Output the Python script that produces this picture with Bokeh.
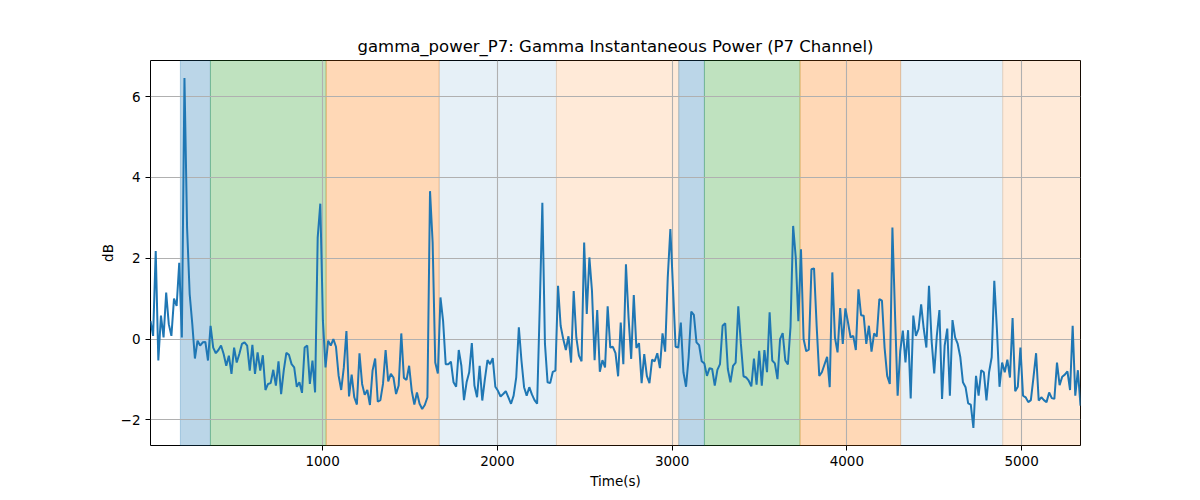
import numpy as np
from bokeh.plotting import figure
from bokeh.models import BoxAnnotation, FixedTicker, CustomJSTickFormatter, Range1d
from bokeh.embed import file_html
from bokeh.resources import INLINE

# ---- data ----
T0 = 15.0
STEP = 14.95

power_db = [
    # segment 1
    0.45, 0.08, 2.18, -0.53, 0.58, 0.04, 1.15, 0.37, 0.08, 1.0, 0.82, 1.89, 0.04, 6.46, 2.76, 1.11, 0.37, -0.48,
    -0.04, -0.16, -0.08, -0.07, -0.53, 0.33, -0.21, -0.35, -0.27, -0.16, -0.37, -0.66, -0.41, -0.86, -0.21, -0.58,
    -0.37, -0.12, -0.08, -0.16,
    # segment 2
    -0.78, -0.14, -0.86, -0.33, -0.78, -0.4, -1.26, -1.11, -1.09, -0.76, -1.15, -0.55, -1.36, -0.78, -0.34, -0.39,
    -0.62, -0.7, -1.18, -1.07, -1.33, -0.21, -0.16, -1.11, -0.53, -1.32, 2.51, 3.35, 0.45, -0.7, -0.04, -0.16, 0.0,
    -0.19, -0.9, -1.26, -0.7, 0.2,
    # segment 3
    -1.42, -0.88, -1.44, -1.62, -0.35, -1.11, -1.38, -1.26, -1.63, -0.78, -0.48, -1.55, -1.51, -1.11, -0.27, -1.05,
    -0.86, -0.95, -1.36, -1.15, 0.14, -0.96, -1.01, -0.66, -1.28, -1.62, -1.32, -1.6, -1.73, -1.63, -1.44, 3.66,
    2.39, -0.58, -0.85, 1.03,
    # segment 4
    0.45, -0.62, -0.62, -0.56, -1.07, -1.18, -0.27, -0.66, -1.51, -1.07, -0.82, -0.1, -1.15, -1.44, -0.66, -1.52,
    -0.99, -0.52, -0.62, -0.47, -1.18, -1.28, -1.42, -1.36, -1.29, -1.44, -1.6, -1.4, -0.95, 0.29, -0.53, -1.19,
    -1.4, -1.19, -1.37, -1.51, -1.6, 0.78, 3.37, -0.12, -1.07, -1.09, -0.81, -0.78, 1.32, 0.33, 0.0, -0.27, 0.07,
    -0.58, 1.19, 0.04, -0.41, -0.55, 2.39, 0.62, 2.02, 1.19, -0.52, 0.72, -0.81, -0.52, -0.7, 0.81, -0.21, -0.19,
    -0.35, -0.92, 0.41, -0.62, 1.85, 0.53, -0.49,
    # segment 5
    1.09, -0.22, -0.1, -1.09, -0.37, -0.91, -1.09, -0.51, -0.55, -0.35, -0.72, 0.14, -0.31, 1.52, 2.72, 1.28,
    -0.19, -0.21, 0.41, -0.82, -1.18, -0.45, 0.68, 0.6, -0.08, -0.15, -0.55, -0.6, -0.91, -0.72, -0.74, -1.15,
    -0.76, -0.62, 0.33, 0.39, -0.74, -1.07, -0.66, -0.58, 0.81, -0.12, -0.92, -0.95, -1.03, -1.17, -0.48, -1.13,
    -0.29, -1.15, -0.27, -0.82, 0.66, -0.53, -0.6, -0.99, 0.0, 0.15, -0.53, -0.63, 0.31, 2.8, 2.02, 0.44, 2.22,
    0.0, -0.3, -0.26, 1.73, 1.75, 0.33, -0.91,
    # segment 6
    -0.82, -0.63, -0.44, -1.19, 1.65, 0.04, -0.33, 0.77, -0.12, 0.76, 0.41, 0.04, 0.08, -0.27, 1.23, 0.59, 0.58,
    -0.12, 0.33, -0.31, 0.14, 0.06, 0.99, 0.95, -0.21, -0.91, -1.11, 2.76, 0.62, -1.4, -0.29, 0.21, -0.58, 0.22,
    -1.47, 0.58, 0.08, 0.25, 0.86, 0.25, -0.21, 1.32, -0.04, -0.85, 0.08, 0.72, -1.48, -0.16, 0.26, -1.4, 0.47,
    0.04, -0.12, -0.45, -1.07, -1.19, -1.59, -1.62, -2.2, -0.91, -1.4, -0.77, -0.82, -1.52, -0.82, -0.45, 1.44,
    0.25, -1.18, -0.58, -0.82, -0.51, -0.95,
    # segment 7
    0.52, -1.29, -1.18, -0.21, -1.4, -1.44, -1.56, -1.51, -0.95, -0.35, -1.52, -1.44, -1.51, -1.56, -1.32, -1.46,
    -1.48, -0.58, -1.14, -0.93, -0.88, -0.8, -1.26, 0.33, -1.4, -0.77, -1.65,
]

time_s = [T0 + i * STEP for i in range(len(power_db))]

span_starts = [186, 358, 1020, 1667, 2338, 3038, 3185, 3732, 4308, 4892]
span_ends = [358, 1020, 1667, 2338, 3038, 3185, 3732, 4308, 4892, 5400]
span_kinds = ["A", "B", "C", "D", "E", "A", "B", "C", "D", "E"]

x_ticks = [1000, 2000, 3000, 4000, 5000]
y_ticks = [-2, 0, 2, 4, 6]

# ---- styles ----
kind_style = {
    "A": ("#1f77b4", 0.3),
    "B": ("#2ca02c", 0.3),
    "C": ("#ff7f0e", 0.3),
    "D": ("#1f77b4", 0.11),
    "E": ("#ff7f0e", 0.16),
}

FONT = "DejaVu Sans"

ymin, ymax = min(power_db), max(power_db)
yr = ymax - ymin

W, H = 1192, 492
p = figure(
    width=W, height=H,
    output_backend="svg", toolbar_location=None,
    x_range=Range1d(time_s[0], time_s[-1]),
    y_range=Range1d(ymin - 0.05 * yr, ymax + 0.05 * yr),
    title="gamma_power_P7: Gamma Instantaneous Power (P7 Channel)",
    min_border_left=150, min_border_right=112, min_border_top=60, min_border_bottom=47,
)
p.title.align = "center"
p.title.text_font = FONT
p.title.text_font_size = "16.5px"
p.title.text_font_style = "normal"
p.title.text_color = "black"

for s, e, k in zip(span_starts, span_ends, span_kinds):
    c, a = kind_style[k]
    p.add_layout(BoxAnnotation(left=s, right=e, fill_color=c, fill_alpha=a,
                               line_color=c, line_alpha=a, line_width=1, level="image"))

p.line(time_s, power_db, line_color="#1f77b4", line_width=2)

p.xaxis.ticker = FixedTicker(ticks=x_ticks)
p.yaxis.ticker = FixedTicker(ticks=y_ticks)
p.yaxis.formatter = CustomJSTickFormatter(code="return tick < 0 ? '\u2212' + Math.abs(tick) : tick.toString();")
p.xaxis.axis_label = "Time(s)"
p.yaxis.axis_label = "dB"
for ax in (p.xaxis, p.yaxis):
    ax.axis_label_text_font = FONT
    ax.axis_label_text_font_size = "13.5px"
    ax.axis_label_text_font_style = "normal"
    ax.axis_label_text_color = "black"
    ax.major_label_text_font = FONT
    ax.major_label_text_font_size = "13.5px"
    ax.major_label_text_color = "black"
    ax.axis_line_color = None
    ax.major_tick_line_color = "black"
    ax.major_tick_out = 5
    ax.major_tick_in = 0
    ax.minor_tick_line_color = None
p.xaxis.axis_label_standoff = 4
p.yaxis.axis_label_standoff = 2

p.grid.grid_line_color = "#b0b0b0"
p.grid.grid_line_width = 1.1
p.outline_line_color = "black"
p.outline_line_width = 1
p.background_fill_color = "white"
p.border_fill_color = "white"

open("out.html", "w").write(file_html(p, INLINE))
